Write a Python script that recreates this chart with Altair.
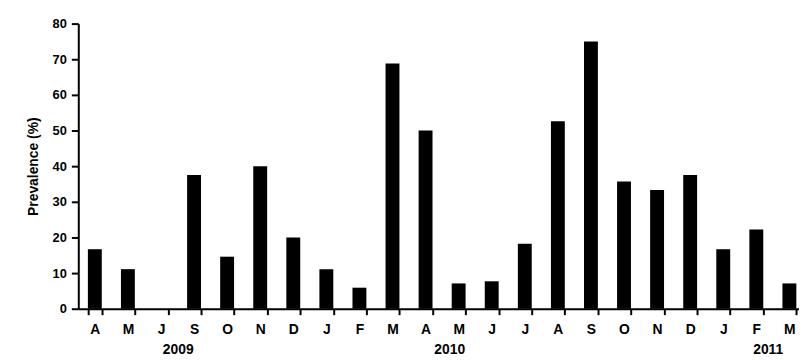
import altair as alt
import pandas as pd

months = ["A", "M", "J", "S", "O", "N", "D", "J", "F", "M", "A", "M", "J", "J", "A", "S", "O", "N", "D", "J", "F", "M"]
years = ["2009"] * 7 + ["2010"] * 12 + ["2011"] * 3
prevalence = [16.7, 11.1, 0, 37.5, 14.6, 40, 20, 11.1, 5.9, 68.8, 50, 7.1, 7.7, 18.2, 52.6, 75, 35.7, 33.3, 37.5, 16.7, 22.2, 7.1]

year_labels = ["2009", "2010", "2011"]
year_anchor = [3, 11, 20]
year_dx = [-16, -9, 12]

keys = [f"{i:02d} {m}" for i, m in enumerate(months)]
df = pd.DataFrame({"key": keys, "month": months, "year": years, "value": prevalence})
ydf = pd.DataFrame({"key": [keys[i] for i in year_anchor], "label": year_labels, "dx": year_dx})

FONT = "Liberation Sans"
W, H = 728, 288
x_scale = alt.Scale(domain=keys, range=[0, 735], paddingInner=0.58, paddingOuter=0.29)

bars = alt.Chart(df).mark_bar(color="black").encode(
    x=alt.X("key:N", scale=x_scale, sort=None, title=None,
            axis=alt.Axis(labelExpr="split(datum.label, ' ')[1]", labelAngle=0,
                          tickBand="extent", domainColor="black", domainWidth=2,
                          tickColor="black", tickWidth=2, tickSize=6, labelPadding=8,
                          labelFont=FONT, labelFontSize=14, labelFontWeight="bold",
                          labelColor="black")),
    y=alt.Y("value:Q", scale=alt.Scale(domain=[0, 80], nice=False),
            title="Prevalence (%)",
            axis=alt.Axis(values=list(range(0, 81, 10)), grid=False, domainColor="black",
                          domainWidth=2, tickColor="black", tickWidth=2, tickSize=7,
                          labelPadding=5, labelFont=FONT, labelFontSize=13,
                          labelFontWeight="bold", labelColor="black",
                          titleFont=FONT, titleFontSize=14, titleFontWeight="bold",
                          titleColor="black", titlePadding=12)),
)

year_text = [
    alt.Chart(ydf.iloc[[i]]).mark_text(font=FONT, fontSize=14, fontWeight="bold", color="black",
                                        dx=int(year_dx[i]), baseline="middle").encode(
        x=alt.X("key:N", scale=x_scale, sort=None),
        y=alt.value(H + 42),
        text="label:N",
    )
    for i in range(len(year_labels))
]

chart = alt.layer(bars, *year_text).properties(
    width=W, height=H,
    autosize=alt.AutoSizeParams(type="none"),
    padding={"left": 71, "top": 14, "right": 0, "bottom": 48},
).configure_view(stroke=None)

chart.save("out.html", embed_options={"renderer": "svg", "actions": False})
